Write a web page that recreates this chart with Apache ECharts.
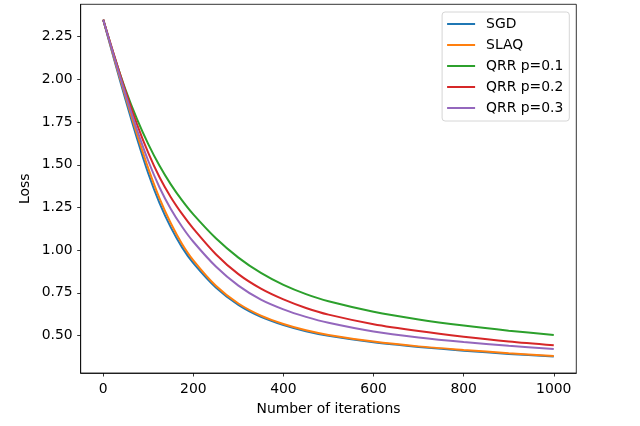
<!DOCTYPE html>
<html>
<head>
<meta charset="utf-8">
<script src="https://cdn.jsdelivr.net/npm/echarts@6/dist/echarts.min.js"></script>
<style>
html,body{margin:0;padding:0;background:#fff;}
#chart{width:640px;height:426px;}
</style>
</head>
<body>
<div id="chart"></div>
<script>
// 横轴 迭代次数
var iterations=[0,25,50,75,100,125,150,175,200,250,300,350,400,450,500,600,700,800,900,1000];
// 各方法损失
var sgdLoss =[2.35,2.109,1.876,1.654,1.449,1.275,1.133,1.016,0.924,0.781,0.679,0.609,0.561,0.525,0.498,0.460,0.433,0.411,0.392,0.376];
var slaqLoss=[2.35,2.117,1.894,1.679,1.479,1.303,1.157,1.036,0.940,0.791,0.687,0.616,0.567,0.530,0.503,0.464,0.436,0.415,0.396,0.379];
var qrr1Loss=[2.35,2.133,1.936,1.767,1.621,1.494,1.385,1.291,1.209,1.069,0.956,0.866,0.796,0.742,0.700,0.639,0.594,0.558,0.528,0.503];
var qrr2Loss=[2.35,2.134,1.927,1.737,1.570,1.427,1.310,1.212,1.126,0.976,0.859,0.774,0.711,0.661,0.622,0.566,0.526,0.493,0.465,0.443];
var qrr3Loss=[2.35,2.125,1.908,1.704,1.522,1.367,1.241,1.137,1.049,0.904,0.792,0.710,0.653,0.609,0.574,0.523,0.488,0.461,0.439,0.420];
// 图例名
var names=['SGD','SLAQ','QRR p=0.1','QRR p=0.2','QRR p=0.3'];
var colors=['#1f77b4','#ff7f0e','#2ca02c','#d62728','#9467bd'];
// 刻度
var xTicks=[0,200,400,600,800,1000];
var yTicks=[0.5,0.75,1.0,1.25,1.5,1.75,2.0,2.25];

var font='DejaVu Sans';
var myChart=echarts.init(document.getElementById('chart'));

function pairs(ys){
	var out=[];
	for(var i=0;i<iterations.length;i++){
		out.push([iterations[i],ys[i]]);
	}
	return out;
}
var allLoss=[sgdLoss,slaqLoss,qrr1Loss,qrr2Loss,qrr3Loss];
var seriesArr=[];
for(var i=0;i<names.length;i++){
	seriesArr.push({
		name:names[i],
		type:'line',
		data:pairs(allLoss[i]),
		symbol:'none',
		showSymbol:false,
		smooth:0.3,
		lineStyle:{color:colors[i],width:2},
		itemStyle:{color:colors[i]}
	});
}

var option={
	animation:false,
	grid:{
		left:80.7,right:63.7,top:4.3,bottom:53,
		show:true,borderColor:'#000',borderWidth:0.8,backgroundColor:'#fff'
	},
	legend:{
		data:names,
		orient:'vertical',
		right:70.7,
		top:12,
		icon:'rect',
		itemWidth:28,
		itemHeight:2,
		itemGap:5,
		padding:[4,6,5,5],
		borderColor:'#d6d6d6',
		borderWidth:1,
		borderRadius:3,
		backgroundColor:'rgba(255,255,255,0.8)',
		textStyle:{fontFamily:font,fontSize:13.9,lineHeight:16,color:'#000',padding:[0,0,0,6]}
	},
	xAxis:{
		type:'value',
		min:-50,max:1050,
		name:'Number of iterations',
		nameLocation:'middle',
		nameGap:29,
		nameMoveOverlap:false,
		nameTextStyle:{fontFamily:font,fontSize:13.9,color:'#000'},
		splitLine:{show:false},
		axisLine:{show:true,onZero:false,lineStyle:{color:'#000',width:0.8}},
		axisTick:{show:true,inside:false,length:3.5,lineStyle:{color:'#000',width:0.8},customValues:xTicks},
		axisLabel:{fontFamily:font,fontSize:13.9,color:'#000',margin:9,customValues:xTicks,
			formatter:function(v){return String(v);}}
	},
	yAxis:{
		type:'value',
		min:0.28,max:2.44,
		name:'Loss',
		nameLocation:'middle',
		nameGap:48,
		nameMoveOverlap:false,
		nameTextStyle:{fontFamily:font,fontSize:13.9,color:'#000'},
		splitLine:{show:false},
		axisLine:{show:true,onZero:false,lineStyle:{color:'#000',width:0.8}},
		axisTick:{show:true,inside:false,length:3.5,lineStyle:{color:'#000',width:0.8},customValues:yTicks},
		axisLabel:{fontFamily:font,fontSize:13.9,color:'#000',margin:8,customValues:yTicks,
			formatter:function(v){return v.toFixed(2);}}
	},
	series:seriesArr
};
myChart.setOption(option);
</script>
</body>
</html>
